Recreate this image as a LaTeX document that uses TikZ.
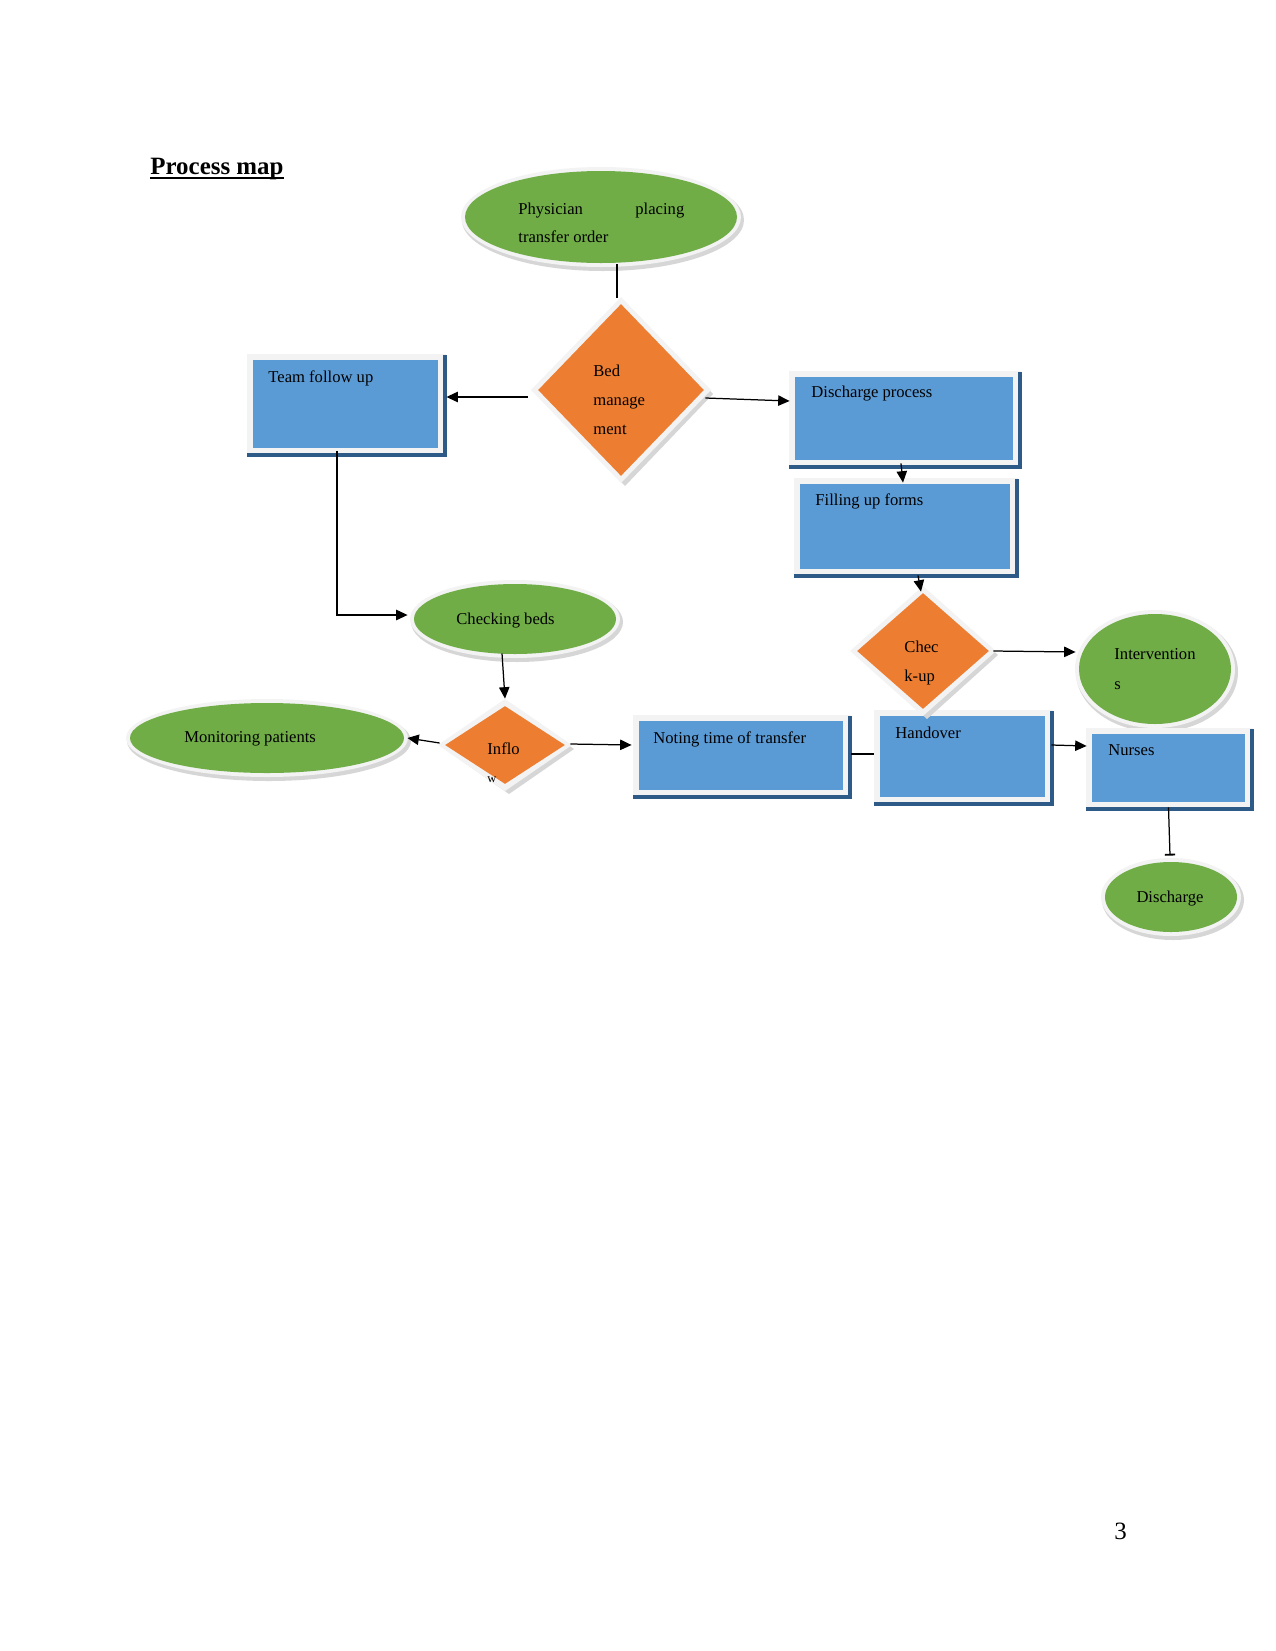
\documentclass[tikz,border=0pt]{standalone}
\usepackage{fontspec}
\setmainfont{Liberation Serif}
\usetikzlibrary{shapes.geometric,arrows.meta,calc}
\definecolor{grn}{HTML}{70AD47}
\definecolor{blu}{HTML}{5B9BD5}
\definecolor{org}{HTML}{ED7D31}
\definecolor{edg}{HTML}{2E5A88}
\definecolor{frm}{HTML}{F3F3F3}
\definecolor{shd}{HTML}{D6D6D6}
% box: name, x1, y1, x2, y2 (pixel coordinates)
\newcommand\pbox[5]{%
  \fill[frm] (#2-6,#3-6) rectangle (#4+8,#5+8);
  \draw[edg, line width=1.5bp] (#4+7,#3-5) -- (#4+7,#5+7) -- (#2-6,#5+7);
  \node[boxst, minimum width={(#4-#2)*0.48bp}, minimum height={(#5-#3)*0.48bp}] (#1) at ({(#2+#4)/2},{(#3+#5)/2}) {};
}
% ellipse: name, cx, cy, rx, ry
\newcommand\pell[5]{%
  \fill[shd] (#2+2,#3+3) ellipse [x radius={(#4+5)*0.48bp}, y radius={(#5+5)*0.48bp}];
  \fill[frm] (#2,#3) ellipse [x radius={(#4+4)*0.48bp}, y radius={(#5+4)*0.48bp}];
  \node[ellst, minimum width={2*#4*0.48bp}, minimum height={2*#5*0.48bp}] (#1) at (#2,#3) {};
}
% diamond: name, cx, cy, hw, hh
\newcommand\pdia[5]{%
  \fill[shd] (#2+4,#3-#5-2) -- (#2+#4+9,#3+4) -- (#2+4,#3+#5+10) -- (#2-#4,#3+4) -- cycle;
  \fill[frm] (#2,#3-#5-7) -- (#2+#4+7,#3) -- (#2,#3+#5+7) -- (#2-#4-7,#3) -- cycle;
  \node[diast, minimum width={2*#4*0.48bp}, minimum height={2*#5*0.48bp}] (#1) at (#2,#3) {};
}
\begin{document}
\begin{tikzpicture}[x=0.48bp,y=-0.48bp,
  ellst/.style={ellipse, fill=grn, inner sep=0pt},
  boxst/.style={rectangle, fill=blu, inner sep=0pt},
  diast/.style={diamond, fill=org, inner sep=0pt},
  lbl/.style={anchor=base west, inner sep=0pt, font=\fontsize{8}{10}\selectfont},
  arr/.style={-{Triangle[length=5.5pt,width=5pt]}, line width=0.6pt},
  con/.style={line width=0.6pt},
  tee/.style={-{Bar[width=5pt,line width=0.9pt]}, line width=0.6pt}]
\fill[white] (0,0) rectangle (1275,1651);
\useasboundingbox (0,0) rectangle (1275,1651);

\node[anchor=base west, inner sep=0pt, font=\fontsize{12}{14}\selectfont\bfseries] (title) at (150,174) {Process map};
\draw[line width=0.6pt] ($(title.base west)+(0,4)$) -- ($(title.base east)+(0,4)$);

% shapes
\pell{e1}{601}{217}{136}{46}
\pdia{d1}{621}{390}{83}{86}
\pbox{team}{253}{360}{438}{448}
\pbox{dp}{795}{377}{1013}{460}
\pbox{fu}{800}{484}{1010}{569}
\pell{iv}{1155}{669}{76}{55}
\pbox{nt}{639}{721}{843}{790}
\pbox{ho}{880}{716}{1045}{797}
\pdia{ck}{923}{651}{66}{58}
\pbox{nu}{1092}{734}{1245}{802}
\pell{dc}{1171}{897}{66}{35}
\pell{cb}{515}{619}{101}{35}
\pell{mp}{267}{738}{137}{35}
\pdia{in}{505}{745}{60}{39}

% texts
\node[lbl] (t1) at (518,214) {Physician};
\node[lbl] (t2) at (635,214) {placing};
\node[lbl] (t3) at (518,242) {transfer order};
\node[lbl] (t4) at (593,376) {Bed};
\node[lbl] (t5) at (593,405) {manage};
\node[lbl] (t6) at (593,434) {ment};
\node[lbl] (t7) at (268,382) {Team follow up};
\node[lbl] (t8) at (811,397) {Discharge process};
\node[lbl] (t9) at (815,505) {Filling up forms};
\node[lbl] (t10) at (904,652) {Chec};
\node[lbl] (t11) at (904,681) {k-up};
\node[lbl] (t12) at (1114,659) {Intervention};
\node[lbl] (t13) at (1114,689) {s};
\node[lbl] (t14) at (456,624) {Checking beds};
\node[lbl] (t15) at (184,742) {Monitoring patients};
\node[lbl] (t16) at (487,754) {Inflo};
\node[lbl, font=\fontsize{6}{7}\selectfont] (t17) at (487,782) {w};
\node[lbl] (t18) at (653,743) {Noting time of transfer};
\node[lbl] (t19) at (895,738) {Handover};
\node[lbl] (t20) at (1108,755) {Nurses};
\node[anchor=base, inner sep=0pt, font=\fontsize{8}{10}\selectfont] (t21) at (1170,902) {Discharge};
\node[anchor=base west, inner sep=0pt, font=\fontsize{12}{14}\selectfont] (pg) at (1114,1539) {3};

% connectors
\draw[con] ($(e1.south)+(16,1)$) -- ($(d1.north)+(-4,-6)$);
\draw[arr] ($(d1.west)+(-10,7)$) -- ($(team.east)+(8,-7)$);
\draw[arr] ($(d1.east)+(1,8)$) -- ($(dp.west)+(-5,-17.5)$);
\draw[arr] ($(dp.south)+(-3,3)$) -- ($(fu.north)+(-2,-1)$);
\draw[arr] ($(fu.south)+(13,6)$) -- ($(ck.north)+(-2,-1)$);
\draw[arr] ($(ck.east)+(4,0)$) -- ($(iv.west)+(-3,-17)$);
\draw[arr] ($(ho.east)+(6,-11.5)$) -- ($(nu.west)+(-5,-22)$);
\draw[tee] ($(nu.south)+(0,5)$) -- ($(dc.north)+(-1,-6)$);
\draw[con] ($(nt.east)+(8,-1.5)$) -- ($(ho.west)+(-6,-2.5)$);
\draw[arr] ($(in.east)+(5,-1)$) -- ($(nt.west)+(-7,-10.5)$);
\draw[arr] ($(in.west)+(-5,-2)$) -- ($(mp.east)+(3,0)$);
\draw[arr] ($(cb.south)+(-13,-1)$) -- ($(in.north)+(0,-7)$);
\draw[arr] ($(team.south)+(-8.5,3)$) |- ($(cb.west)+(-6,-4)$);
\end{tikzpicture}
\end{document}
